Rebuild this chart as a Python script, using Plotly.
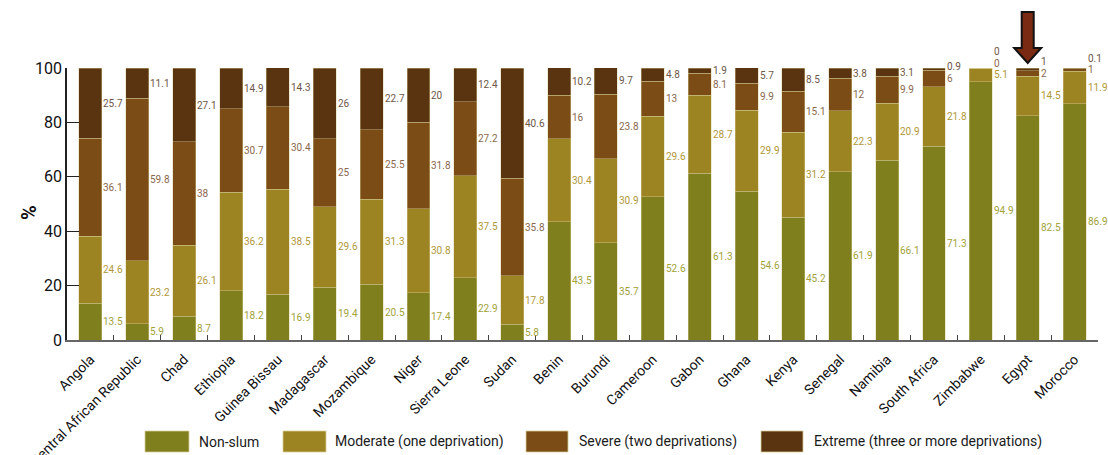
import plotly.graph_objects as go

countries = ["Angola", "Central African Republic", "Chad", "Ethiopia", "Guinea Bissau",
             "Madagascar", "Mozambique", "Niger", "Sierra Leone", "Sudan", "Benin",
             "Burundi", "Cameroon", "Gabon", "Ghana", "Kenya", "Senegal", "Namibia",
             "South Africa", "Zimbabwe", "Egypt", "Morocco"]
non_slum = [13.5, 5.9, 8.7, 18.2, 16.9, 19.4, 20.5, 17.4, 22.9, 5.8, 43.5,
            35.7, 52.6, 61.3, 54.6, 45.2, 61.9, 66.1, 71.3, 94.9, 82.5, 86.9]
moderate = [24.6, 23.2, 26.1, 36.2, 38.5, 29.6, 31.3, 30.8, 37.5, 17.8, 30.4,
            30.9, 29.6, 28.7, 29.9, 31.2, 22.3, 20.9, 21.8, 5.1, 14.5, 11.9]
severe = [36.1, 59.8, 38, 30.7, 30.4, 25, 25.5, 31.8, 27.2, 35.8, 16,
          23.8, 13, 8.1, 9.9, 15.1, 12, 9.9, 6, 0, 2, 1]
extreme = [25.7, 11.1, 27.1, 14.9, 14.3, 26, 22.7, 20, 12.4, 40.6, 10.2,
           9.7, 4.8, 1.9, 5.7, 8.5, 3.8, 3.1, 0.9, 0, 1, 0.1]
series_names = ["Non-slum", "Moderate (one deprivation)", "Severe (two deprivations)",
                "Extreme (three or more deprivations)"]
y_ticks = [0, 20, 40, 60, 80, 100]
highlight = "Egypt"

bar_colors = ["#7f7f1e", "#9b8421", "#7b4c15", "#5a3310"]
label_colors = ["#a2a23a", "#b09838", "#8a684c", "#6e5646"]
FONT = "Liberation Sans Narrow, Arial Narrow, Roboto, sans-serif"

series = [non_slum, moderate, severe, extreme]

fig = go.Figure()
for name, vals, col in zip(series_names, series, bar_colors):
    fig.add_trace(go.Bar(
        x=countries, y=vals, name=name, marker_color=col,
        marker_line=dict(color="rgba(215,205,150,0.7)", width=0.6),
        showlegend=False,
    ))

annotations = []
# value labels to the right of each bar (paper y so labels above 100 stay visible)
gap = 4.3
ymax = y_ticks[-1]
for i, c in enumerate(countries):
    base = 0.0
    prev = -100.0
    for s, vals in enumerate(series):
        v = vals[i]
        mid = base + v / 2.0
        ypos = max(mid, prev + gap)
        prev = ypos
        base += v
        annotations.append(dict(
            x=i, y=ypos / ymax, xref="x", yref="paper", text="%g" % v,
            showarrow=False, xanchor="left", yanchor="middle", xshift=11,
            font=dict(family=FONT, size=10, color=label_colors[s]),
        ))

# y axis title
annotations.append(dict(
    text="<b>%</b>", xref="paper", yref="paper", x=(15 - 67) / 1031, y=0.467,
    showarrow=False, textangle=-90, font=dict(family=FONT, size=20, color="#111"),
))

shapes = []
# manual legend
legend_boxes = [(145, 189, 197), (283, 326, 333), (526, 568, 577), (761, 803, 812)]
for (x0, x1, tx), name, col in zip(legend_boxes, series_names, bar_colors):
    shapes.append(dict(
        type="rect", xref="paper", yref="paper",
        x0=(x0 - 67) / 1031, x1=(x1 - 67) / 1031,
        y0=(340 - 452) / 272, y1=(340 - 431) / 272,
        fillcolor=col, line=dict(color="rgba(215,205,150,0.8)", width=1),
    ))
    annotations.append(dict(
        text=name, xref="paper", yref="paper", x=(tx - 67) / 1031,
        y=(340 - 441.5) / 272, xanchor="left", yanchor="middle", showarrow=False,
        font=dict(family=FONT, size=14, color="#1a1a1a"),
    ))

# highlight arrow above Egypt
idx = countries.index(highlight)
cx = (idx + 0.5) / len(countries)
sw = 6 / 1031
hw = 13.5 / 1031
y_top = (340 - 12) / 272
y_hb = (340 - 48) / 272
y_tip = (340 - 63) / 272
path = (f"M {cx - sw} {y_top} L {cx + sw} {y_top} L {cx + sw} {y_hb} L {cx + hw} {y_hb} "
        f"L {cx} {y_tip} L {cx - hw} {y_hb} L {cx - sw} {y_hb} Z")
shapes.append(dict(type="path", xref="paper", yref="paper", path=path,
                   fillcolor="#7a2a12", line=dict(color="#111", width=2)))

fig.update_layout(
    barmode="stack", bargap=0.51,
    width=1108, height=455,
    margin=dict(l=67, r=10, t=68, b=115, autoexpand=False),
    plot_bgcolor="white", paper_bgcolor="white",
    font=dict(family=FONT, color="#111"),
    annotations=annotations, shapes=shapes,
    xaxis=dict(
        type="category", range=[-0.5, len(countries) - 0.5], automargin=False,
        tickangle=-45, tickson="boundaries", ticks="inside", ticklen=5,
        tickcolor="#444", showline=True, linecolor="#666", linewidth=1.5,
        tickfont=dict(family=FONT, size=14, color="#111"), showgrid=False,
        ticklabelstandoff=4,
    ),
    yaxis=dict(
        range=[0, ymax], tickvals=y_ticks, ticks="inside", ticklen=12,
        automargin=False,
        tickcolor="#222", showline=True, linecolor="#222", linewidth=1.5,
        tickfont=dict(family=FONT, size=16, color="#111"), showgrid=False,
        zeroline=False,
    ),
)

fig.write_html("out.html")
